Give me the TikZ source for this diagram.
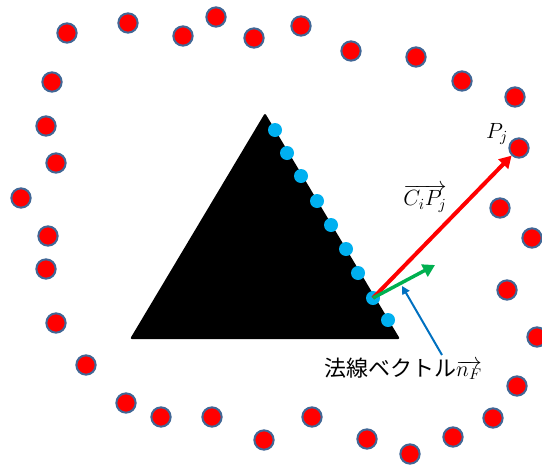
\documentclass[tikz,border=0pt]{standalone}
\usepackage{fix-cm}
\usepackage{fontspec}
\newfontfamily\jpfont{Noto Sans CJK JP}
\usetikzlibrary{arrows.meta}
\definecolor{dotedge}{RGB}{65,103,150}
\definecolor{vtxblue}{RGB}{0,176,240}
\definecolor{nrmgreen}{RGB}{0,176,80}
\definecolor{ptrblue}{RGB}{0,112,192}
\begin{document}
\begin{tikzpicture}[
    x=0.75pt, y=-0.75pt,
    pt_style/.style={circle, draw=dotedge, line width=1.5pt, fill=red, minimum size=14.5pt, inner sep=0pt},
    vtx_style/.style={circle, fill=vtxblue, minimum size=10.5pt, inner sep=0pt},
    vec/.style={line width=3pt, -{Triangle[length=9pt, width=10pt]}},
    ptr/.style={line width=1.5pt, color=ptrblue, -{Triangle[length=6pt, width=6pt]}},
    lbl/.style={font=\fontsize{16.5}{19}\selectfont, inner sep=1pt}
]
\useasboundingbox (0,0) rectangle (542,468);
% Polygone
\fill[black, rounded corners=1.5pt] (265,113) -- (400,339) -- (130,339) -- cycle;

% Sommets sur l'arete
\foreach \x/\y [count=\i] in {275/130, 287/153, 301/176, 317/201, 331/225,
    346/249, 358/273, 373/298, 388/320}
    \node[vtx_style] (c\i) at (\x,\y) {};

% Nuage de points
\foreach \x/\y [count=\i] in {67/33, 128/23, 183/36, 216/17, 254/38, 301/26,
    351/51, 416/57, 462/81, 515/97, 500/208, 532/238, 507/290, 537/337,
    517/386, 493/418, 453/437, 410/454, 367/439, 312/417, 264/440, 212/417,
    161/417, 126/403, 86/365, 56/323, 46/269, 48/236, 21/198, 56/163,
    46/126, 52/82}
    \node[pt_style] (p\i) at (\x,\y) {};
\node[pt_style] (pj) at (519,148) {};

% Vecteurs
\coordinate (ntip) at (435,265);
\draw[vec, red] (c8.center) -- (pj);
\draw[vec, nrmgreen, line width=2.6pt] (c8.center) -- (ntip);

% Etiquettes
\node[lbl] (pjlbl) at (497,134) {$P_j$};
\node[lbl] (cplbl) at (425,198) {$\overrightarrow{C_iP_j}$};
\node[lbl] (nlbl) at (403,369) {\jpfont 法線ベクトル$\overrightarrow{n_F}$};

\coordinate (nfoot) at (442,355);
\coordinate (nhead) at (402,286);
\draw[ptr] (nfoot) -- (nhead);
\end{tikzpicture}
\end{document}
